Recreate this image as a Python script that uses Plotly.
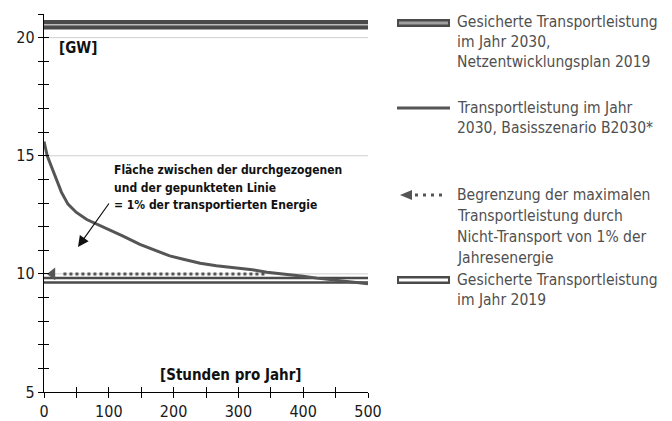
import plotly.graph_objects as go

# ---- data ----
hours = [0, 2, 5, 12, 20, 27, 37, 50, 66, 86, 102, 122, 148, 164, 179, 194, 215,
         241, 266, 292, 318, 344, 369, 400, 421, 450, 472, 500]
transport_b2030 = [15.6, 15.3, 15.0, 14.5, 13.9, 13.45, 12.95, 12.6, 12.3, 12.05,
                   11.88, 11.6, 11.25, 11.08, 10.94, 10.76, 10.62, 10.45, 10.34,
                   10.27, 10.19, 10.07, 10.0, 9.9, 9.82, 9.74, 9.68, 9.58]
span_hours = [0, 500]
nep2030_level = [20.55, 20.55]
level_2019 = [9.73, 9.73]
limit_hours = [30, 344]
limit_level = [10, 10]
arrow_hour = [13]
arrow_level = [10]
grid_levels = [10, 15, 20]

y_tickvals = list(range(5, 22))
y_ticktext = [str(v) if v % 5 == 0 and v <= 20 else "" for v in y_tickvals]
x_tickvals = list(range(0, 501, 50))
x_ticktext = [str(v) if v % 100 == 0 else "" for v in x_tickvals]

legend_items = [
    ["Gesicherte Transportleistung", "im Jahr 2030,", "Netzentwicklungsplan 2019"],
    ["Transportleistung im Jahr", "2030, Basisszenario B2030*"],
    ["Begrenzung der maximalen", "Transportleistung durch",
     "Nicht-Transport von 1% der", "Jahresenergie"],
    ["Gesicherte Transportleistung", "im Jahr 2019"],
]
note_lines = ["Fläche zwischen der durchgezogenen", "und der gepunkteten Linie",
              "= 1% der transportierten Energie"]

DARK = "#4a4a4a"
FONT = "DejaVu Sans Condensed, Liberation Sans, sans-serif"

# ---- geometry (screen pixels; page body has an 8px margin) ----
W, H = 672, 421
OFF = 8
PL, PR, PT, PB = 44, 368, 14, 392          # plot area on screen
PW, PH = PR - PL, PB - PT
ML, MT = PL - OFF, PT - OFF
MR = W - (PR - OFF)
MB = H - (PB - OFF)


def px(xp):
    return (xp - PL) / PW


def py(yp):
    return (PB - yp) / PH


fig = go.Figure()

# NEP 2030 double line
fig.add_trace(go.Scatter(x=span_hours, y=nep2030_level, mode="lines",
                         line=dict(color=DARK, width=9.5), hoverinfo="skip"))
fig.add_trace(go.Scatter(x=span_hours, y=nep2030_level, mode="lines",
                         line=dict(color="#bdbdbd", width=1.5), hoverinfo="skip"))
# 2019 double line
fig.add_trace(go.Scatter(x=span_hours, y=level_2019, mode="lines",
                         line=dict(color=DARK, width=7), hoverinfo="skip"))
fig.add_trace(go.Scatter(x=span_hours, y=level_2019, mode="lines",
                         line=dict(color="white", width=2), hoverinfo="skip"))
# dotted limit line + arrowhead
fig.add_trace(go.Scatter(x=limit_hours, y=limit_level, mode="lines",
                         line=dict(color="#555555", width=3, dash="3px,3px"),
                         hoverinfo="skip"))
fig.add_trace(go.Scatter(x=arrow_hour, y=arrow_level, mode="markers",
                         marker=dict(symbol="triangle-left", size=11, color="#555555"),
                         hoverinfo="skip"))
# duration curve B2030
fig.add_trace(go.Scatter(x=hours, y=transport_b2030, mode="lines",
                         line=dict(color="#555555", width=3), hoverinfo="skip"))
# dummy trace for overlay axes (crossing ticks)
fig.add_trace(go.Scatter(x=[None], y=[None], xaxis="x2", yaxis="y2",
                         hoverinfo="skip"))

shapes = []
for g in grid_levels:
    shapes.append(dict(type="line", xref="x", yref="y", x0=0, x1=500, y0=g, y1=g,
                       line=dict(color="#cfcfcf", width=1), layer="below"))

# ---- custom legend ----
x0s, x1s = px(397), px(450)
# item 1: double line grey inside
y1 = py(23)
shapes.append(dict(type="line", xref="paper", yref="paper", x0=x0s, x1=x1s, y0=y1, y1=y1,
                   line=dict(color=DARK, width=8)))
shapes.append(dict(type="line", xref="paper", yref="paper", x0=px(399), x1=px(448),
                   y0=y1, y1=y1, line=dict(color="#a0a0a0", width=3)))
# item 2: solid
y2 = py(108)
shapes.append(dict(type="line", xref="paper", yref="paper", x0=x0s, x1=x1s, y0=y2, y1=y2,
                   line=dict(color="#555555", width=3)))
# item 3: arrow + dots
y3 = py(195)
shapes.append(dict(type="path", xref="paper", yref="paper",
                   path=f"M {px(400)},{y3} L {px(412)},{py(190)} L {px(412)},{py(200)} Z",
                   fillcolor="#555555", line=dict(width=0)))
shapes.append(dict(type="line", xref="paper", yref="paper", x0=px(415), x1=px(444),
                   y0=y3, y1=y3, line=dict(color="#555555", width=3, dash="3px,5px")))
# item 4: double line white inside
y4 = py(280)
shapes.append(dict(type="line", xref="paper", yref="paper", x0=x0s, x1=x1s, y0=y4, y1=y4,
                   line=dict(color=DARK, width=8)))
shapes.append(dict(type="line", xref="paper", yref="paper", x0=px(399), x1=px(448),
                   y0=y4, y1=y4, line=dict(color="white", width=3)))

annotations = []
legend_line_y = [[22, 42, 62], [108, 128], [195, 216, 237, 258], [280, 300]]
for lines, ys in zip(legend_items, legend_line_y):
    for t, yy in zip(lines, ys):
        annotations.append(dict(xref="paper", yref="paper", x=px(455), y=py(yy),
                                xanchor="left", yanchor="middle", text=t,
                                showarrow=False,
                                font=dict(family=FONT, size=15.5, color="#505050")))

for t, yy in zip(note_lines, [170, 188, 205]):
    annotations.append(dict(xref="paper", yref="paper", x=px(112), y=py(yy),
                            xanchor="left", yanchor="middle",
                            text=f"<b>{t}</b>", showarrow=False,
                            font=dict(family=FONT, size=12, color="#111111")))
# arrow pointing to the area
annotations.append(dict(xref="paper", yref="paper", x=px(78), y=py(247),
                        ax=32, ay=-45, axref="pixel", ayref="pixel", text="",
                        showarrow=True, arrowhead=2, arrowsize=1.8, arrowwidth=1.2,
                        arrowcolor="#111111"))
annotations.append(dict(xref="paper", yref="paper", x=px(57), y=py(48),
                        xanchor="left", yanchor="middle", text="<b>[GW]</b>",
                        showarrow=False, font=dict(family=FONT, size=15, color="#111111")))
annotations.append(dict(xref="paper", yref="paper", x=px(231), y=py(375),
                        xanchor="center", yanchor="middle",
                        text="<b>[Stunden pro Jahr]</b>",
                        showarrow=False, font=dict(family=FONT, size=15, color="#111111")))

axis_common = dict(showgrid=False, zeroline=False, showline=True, linecolor="black",
                   linewidth=1.3, ticklen=5, tickwidth=1.3, tickcolor="black",
                   automargin=False)
fig.update_layout(
    width=W, height=H, margin=dict(l=ML, r=MR, t=MT, b=MB, autoexpand=False),
    paper_bgcolor="white", plot_bgcolor="white", showlegend=False,
    font=dict(family=FONT, size=16, color="#1a1a1a"),
    xaxis=dict(range=[0, 500], tickmode="array", tickvals=x_tickvals,
               ticktext=x_ticktext, ticks="outside", **axis_common),
    yaxis=dict(range=[5, 21], tickmode="array", tickvals=y_tickvals,
               ticktext=y_ticktext, ticks="outside", **axis_common),
    xaxis2=dict(overlaying="x", anchor="y", range=[0, 500], tickmode="array",
                tickvals=x_tickvals, showticklabels=False, ticks="inside",
                **axis_common),
    yaxis2=dict(overlaying="y", anchor="x", range=[5, 21], tickmode="array",
                tickvals=y_tickvals, showticklabels=False, ticks="inside",
                **axis_common),
    shapes=shapes, annotations=annotations,
)

fig.write_html("out.html")
